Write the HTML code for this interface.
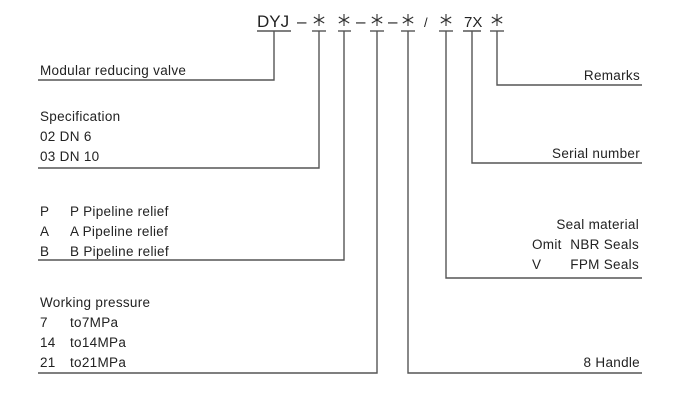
<!DOCTYPE html>
<html><head><style>html,body{margin:0;padding:0;background:#fff}</style></head><body>
<svg width="697" height="402" xmlns="http://www.w3.org/2000/svg" font-family="Liberation Sans, sans-serif" fill="#222">
<defs>
<g id="ast" stroke="#333" stroke-width="1.1">
<line x1="0" y1="-6" x2="0" y2="6"/>
<line x1="-5.2" y1="-3" x2="5.2" y2="3"/>
<line x1="-5.2" y1="3" x2="5.2" y2="-3"/>
</g>
</defs>
<g stroke="#555" stroke-width="1.4" fill="none">
<line x1="257" y1="31" x2="291" y2="31"/>
<line x1="312" y1="31" x2="326" y2="31"/>
<line x1="338" y1="31" x2="351" y2="31"/>
<line x1="370" y1="31" x2="384" y2="31"/>
<line x1="401" y1="31" x2="415" y2="31"/>
<line x1="439" y1="31" x2="453" y2="31"/>
<line x1="463" y1="31" x2="481" y2="31"/>
<line x1="490" y1="31" x2="504" y2="31"/>
<polyline points="274,31 274,80 38,80"/>
<polyline points="319,31 319,168 38,168"/>
<polyline points="344,31 344,260 38,260"/>
<polyline points="377,31 377,373 38,373"/>
<polyline points="408,31 408,373 642,373"/>
<polyline points="446,31 446,278 642,278"/>
<polyline points="472,31 472,163 642,163"/>
<polyline points="497,31 497,85 642,85"/>
</g>
<use href="#ast" x="319" y="20"/>
<use href="#ast" x="344" y="20"/>
<use href="#ast" x="377" y="20"/>
<use href="#ast" x="408" y="20"/>
<use href="#ast" x="446" y="20"/>
<use href="#ast" x="497" y="20"/>
<g font-size="17">
<text x="257" y="27">DYJ</text>
<text x="297" y="27">–</text>
<text x="356" y="27">–</text>
<text x="388" y="27">–</text>
<text x="424" y="27" font-size="13">/</text>
<text x="464" y="27" font-size="15">7X</text>
</g>
<g font-size="13.5" letter-spacing="0.3">
<text x="40" y="75">Modular reducing valve</text>
<text x="40" y="121">Specification</text>
<text x="40" y="141">02 DN 6</text>
<text x="40" y="161">03 DN 10</text>
<text x="40" y="216">P</text><text x="70" y="216">P Pipeline relief</text>
<text x="40" y="236">A</text><text x="70" y="236">A Pipeline relief</text>
<text x="40" y="256">B</text><text x="70" y="256">B Pipeline relief</text>
<text x="40" y="307">Working pressure</text>
<text x="40" y="327">7</text><text x="70" y="327">to7MPa</text>
<text x="40" y="347">14</text><text x="70" y="347">to14MPa</text>
<text x="40" y="367">21</text><text x="70" y="367">to21MPa</text>
<g text-anchor="end">
<text x="640" y="80">Remarks</text>
<text x="640" y="158">Serial number</text>
<text x="639" y="229">Seal material</text>
<text x="639" y="249">NBR Seals</text>
<text x="639" y="269">FPM Seals</text>
<text x="640" y="367">8 Handle</text>
</g>
<text x="532" y="249">Omit</text>
<text x="532" y="269">V</text>
</g>
</svg>
</body></html>
